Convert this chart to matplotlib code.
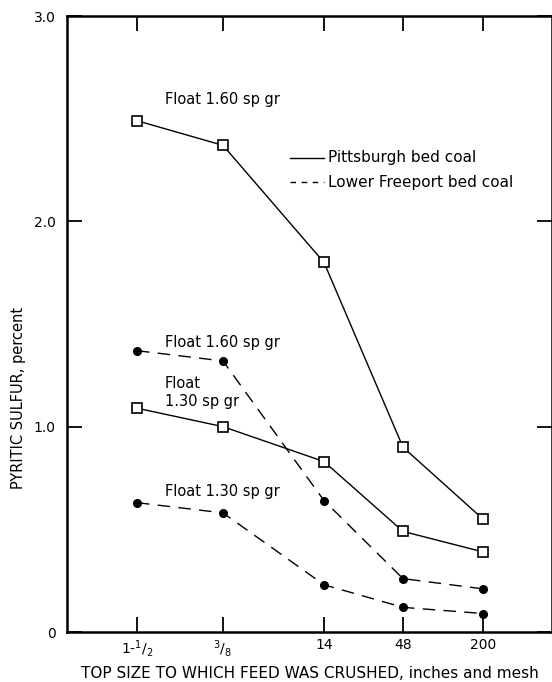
import numpy as np
import matplotlib
matplotlib.use("Agg")
import matplotlib.pyplot as plt

# top size categories and where they sit along the x axis
sizes = ['1-$^1/_2$', '$^3/_8$', '14', '48', '200']
size_pos = [0.70, 1.56, 2.57, 3.36, 4.16]

# pyritic sulfur, percent
pitt_160 = [2.49, 2.37, 1.80, 0.90, 0.55]
pitt_130 = [1.09, 1.00, 0.83, 0.49, 0.39]
lf_160 = [1.37, 1.32, 0.64, 0.26, 0.21]
lf_130 = [0.63, 0.58, 0.23, 0.12, 0.09]

plt.rcParams['font.family'] = 'DejaVu Sans'

fig = plt.figure(figsize=(5.52, 6.82), dpi=100)
ax = fig.add_axes([67/552, 50/682, 485/552, 616/682])

ax.plot(size_pos, pitt_160, '-', color='black', lw=1.0, marker='s', ms=7.5,
        mfc='white', mec='black', mew=1.2, zorder=3)
ax.plot(size_pos, pitt_130, '-', color='black', lw=1.0, marker='s', ms=7.5,
        mfc='white', mec='black', mew=1.2, zorder=3)
ax.plot(size_pos, lf_160, '--', color='black', lw=1.0, dashes=(9, 6),
        marker='o', ms=5.5, mfc='black', mec='black', zorder=3)
ax.plot(size_pos, lf_130, '--', color='black', lw=1.0, dashes=(9, 6),
        marker='o', ms=5.5, mfc='black', mec='black', zorder=3)

ax.set_xlim(0, 4.85)
ax.set_ylim(0, 3.0)
ax.set_xticks(size_pos)
ax.set_xticklabels(sizes, fontsize=10)
ax.set_yticks([0, 1, 2, 3])
ax.set_yticklabels(['0', '1.0', '2.0', '3.0'], fontsize=10)
ax.tick_params(direction='in', length=11, width=1.3, top=True, right=True)
ax.tick_params(axis='x', pad=4)
ax.tick_params(axis='y', pad=8)
for s in ax.spines.values():
    s.set_linewidth(1.8)

# curve labels
ax.text(0.98, 2.57, 'Float 1.60 sp gr', fontsize=10.5)
ax.text(0.98, 1.39, 'Float 1.60 sp gr', fontsize=10.5)
ax.text(0.98, 1.10, 'Float\n1.30 sp gr', fontsize=10.5, linespacing=1.3)
ax.text(0.98, 0.66, 'Float 1.30 sp gr', fontsize=10.5)

# key
ax.plot([2.23, 2.57], [2.31, 2.31], '-', color='black', lw=1.0)
ax.plot([2.23, 2.57], [2.19, 2.19], '--', color='black', lw=1.0, dashes=(4, 4))
ax.text(2.61, 2.31, 'Pittsburgh bed coal', fontsize=11, va='center')
ax.text(2.61, 2.19, 'Lower Freeport bed coal', fontsize=11, va='center')

ax.set_xlabel('TOP SIZE TO WHICH FEED WAS CRUSHED, inches and mesh', fontsize=11)
ax.xaxis.set_label_coords(0.5, -0.055)
ax.set_ylabel('PYRITIC SULFUR, percent', fontsize=10.5)
ax.yaxis.set_label_coords(-0.085, 0.38)

fig.savefig('out.png', dpi=100)
